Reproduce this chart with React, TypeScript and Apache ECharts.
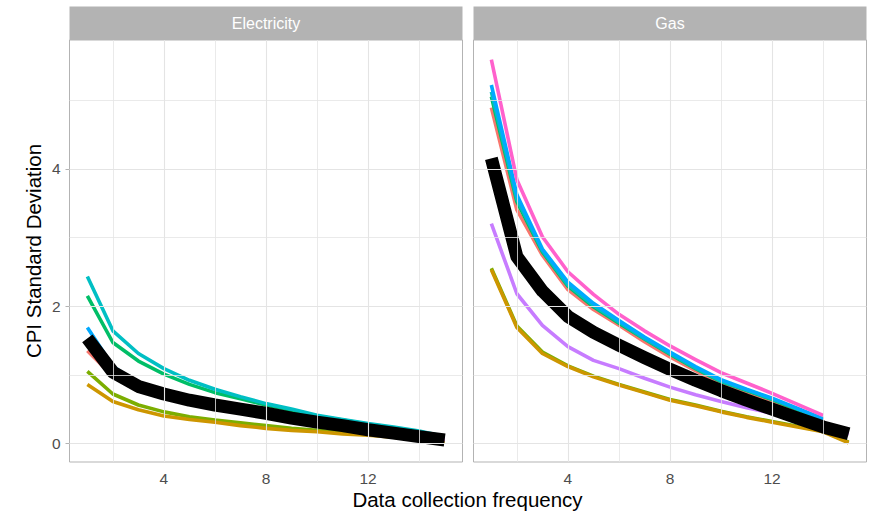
import React, { useEffect, useRef } from "react";
import * as echarts from "echarts";

// ---- data ----
const freq15 = [1, 2, 3, 4, 5, 6, 7, 8, 9, 10, 11, 12, 13, 14, 15];
const freq14 = [1, 2, 3, 4, 5, 6, 7, 8, 9, 10, 11, 12, 13, 14];

const panels = ["Electricity", "Gas"];

const xMajor = [4, 8, 12];
const xMinor = [2, 6, 10, 14];
const yMajor = [0, 2, 4];
const yMinor = [1, 3, 5];

// Electricity
const elecSalmon = [1.35, 0.98, 0.8, 0.69, 0.6, 0.53, 0.47, 0.42, 0.36, 0.3, 0.25, 0.2, 0.15, 0.1, 0.05];
const elecGold = [0.86, 0.61, 0.49, 0.4, 0.35, 0.31, 0.26, 0.22, 0.19, 0.17, 0.14, 0.12, 0.09, 0.06, 0.03];
const elecYellowGreen = [1.05, 0.72, 0.56, 0.46, 0.39, 0.34, 0.3, 0.26, 0.22, 0.19, 0.16, 0.13, 0.1, 0.07, 0.04];
const elecGreen = [2.15, 1.47, 1.2, 1.01, 0.86, 0.74, 0.65, 0.56, 0.48, 0.4, 0.34, 0.28, 0.22, 0.16, 0.09];
const elecTeal = [2.43, 1.64, 1.31, 1.09, 0.92, 0.79, 0.68, 0.58, 0.5, 0.41, 0.35, 0.29, 0.24, 0.18, 0.1];
const elecBlue = [1.69, 1.12, 0.88, 0.75, 0.66, 0.58, 0.52, 0.46, 0.39, 0.33, 0.27, 0.21, 0.16, 0.11, 0.06];
const elecPurple = [1.45, 1.02, 0.82, 0.71, 0.62, 0.55, 0.49, 0.43, 0.37, 0.31, 0.26, 0.2, 0.15, 0.1, 0.05];
const elecPink = [1.5, 1.05, 0.84, 0.73, 0.64, 0.57, 0.51, 0.45, 0.38, 0.32, 0.27, 0.21, 0.16, 0.11, 0.06];
const elecMean = [1.53, 1.04, 0.83, 0.72, 0.63, 0.56, 0.5, 0.44, 0.37, 0.31, 0.26, 0.2, 0.15, 0.1, 0.05];

// Gas
const gasSalmon = [4.89, 3.4, 2.74, 2.24, 1.95, 1.72, 1.48, 1.26, 1.06, 0.87, 0.74, 0.61, 0.48, 0.34];
const gasYellowGreen = [2.55, 1.71, 1.33, 1.13, 0.98, 0.86, 0.75, 0.64, 0.56, 0.47, 0.39, 0.32, 0.25, 0.18, 0.02];
const gasGold = [2.53, 1.69, 1.31, 1.12, 0.97, 0.85, 0.74, 0.63, 0.55, 0.46, 0.38, 0.31, 0.24, 0.17, 0.01];
const gasGreen = [5.05, 3.52, 2.79, 2.29, 1.99, 1.75, 1.52, 1.3, 1.09, 0.9, 0.77, 0.64, 0.49, 0.35];
const gasTeal = [5.12, 3.56, 2.81, 2.31, 2.01, 1.77, 1.53, 1.31, 1.1, 0.91, 0.78, 0.65, 0.5, 0.35];
const gasBlue = [5.22, 3.62, 2.83, 2.35, 2.04, 1.79, 1.55, 1.33, 1.12, 0.93, 0.79, 0.66, 0.51, 0.36];
const gasPurple = [3.2, 2.18, 1.72, 1.41, 1.21, 1.09, 0.95, 0.82, 0.71, 0.61, 0.52, 0.44, 0.35, 0.25, 0.13];
const gasPink = [5.59, 3.84, 3.01, 2.5, 2.17, 1.88, 1.64, 1.42, 1.22, 1.03, 0.88, 0.73, 0.57, 0.41];
const gasMean = [4.15, 2.72, 2.22, 1.85, 1.62, 1.43, 1.25, 1.08, 0.92, 0.77, 0.63, 0.5, 0.37, 0.24, 0.14];

const colSalmon = "#F8766D";
const colGold = "#CD9600";
const colYellowGreen = "#7CAE00";
const colGreen = "#00BE67";
const colTeal = "#00BFC4";
const colBlue = "#00A9FF";
const colPurple = "#C77CFF";
const colPink = "#FF61CC";

const FONT = '"Liberation Sans", Arial, Helvetica, sans-serif';
const LW = 3.6;

function pts(xs: number[], ys: number[]) {
  return ys.map((y, i) => [xs[i], y]);
}

function lineSeries(idx: number, xs: number[], ys: number[], color: string, width: number) {
  return {
    type: "line",
    xAxisIndex: idx,
    yAxisIndex: idx,
    data: pts(xs, ys),
    showSymbol: false,
    symbol: "none",
    silent: true,
    z: 3,
    lineStyle: { color, width, cap: "butt", join: "round" },
  };
}

function gridSeries(idx: number) {
  const ls = (w: number) => ({ color: "#E4E4E4", width: w, type: "solid" });
  return {
    type: "line",
    xAxisIndex: idx,
    yAxisIndex: idx,
    data: [],
    silent: true,
    z: 1,
    markLine: {
      silent: true,
      symbol: ["none", "none"],
      label: { show: false },
      animation: false,
      data: [
        ...xMinor.map((v) => ({ xAxis: v, lineStyle: ls(0.8) })),
        ...yMinor.map((v) => ({ yAxis: v, lineStyle: ls(0.8) })),
        ...xMajor.map((v) => ({ xAxis: v, lineStyle: ls(1.1) })),
        ...yMajor.map((v) => ({ yAxis: v, lineStyle: ls(1.1) })),
      ],
    },
  };
}

const panelLeft = [69.5, 473.5];
const panelWidth = 393;
const panelTop = 40;
const panelHeight = 422;

export default function App() {
  const ref = useRef<HTMLDivElement>(null);
  useEffect(() => {
    const chart = echarts.init(ref.current!, null, { renderer: "svg" });
    const xAxisBase = (idx: number) => ({
      type: "value",
      gridIndex: idx,
      min: 0.3,
      max: 15.7,
      axisLine: { show: false },
      splitLine: { show: false },
      axisTick: { show: true, length: 4, customValues: xMajor, lineStyle: { color: "#B3B3B3", width: 1 } },
      axisLabel: { customValues: xMajor, color: "#4D4D4D", fontSize: 15.5, fontFamily: FONT, margin: 8 },
    });
    const yAxisBase = (idx: number) => ({
      type: "value",
      gridIndex: idx,
      min: -0.27,
      max: 5.875,
      axisLine: { show: false },
      splitLine: { show: false },
      axisTick: { show: idx === 0, length: 4, customValues: yMajor, lineStyle: { color: "#B3B3B3", width: 1 } },
      axisLabel: { show: idx === 0, customValues: yMajor, color: "#4D4D4D", fontSize: 15.5, fontFamily: FONT, margin: 9 },
    });

    const option: any = {
      animation: false,
      grid: panelLeft.map((l) => ({
        left: l,
        top: panelTop,
        width: panelWidth,
        height: panelHeight,
        show: true,
        borderColor: "#B3B3B3",
        borderWidth: 1,
        backgroundColor: "transparent",
        containLabel: false,
      })),
      xAxis: [xAxisBase(0), xAxisBase(1)],
      yAxis: [yAxisBase(0), yAxisBase(1)],
      series: [
        gridSeries(0),
        gridSeries(1),
        lineSeries(0, freq15, elecSalmon, colSalmon, LW),
        lineSeries(0, freq15, elecYellowGreen, colYellowGreen, LW),
        lineSeries(0, freq15, elecGold, colGold, LW),
        lineSeries(0, freq15, elecGreen, colGreen, LW),
        lineSeries(0, freq15, elecTeal, colTeal, LW),
        lineSeries(0, freq15, elecBlue, colBlue, LW),
        lineSeries(0, freq15, elecPurple, colPurple, LW),
        lineSeries(0, freq15, elecPink, colPink, LW),
        lineSeries(0, freq15, elecMean, "#000000", 13),
        lineSeries(1, freq14, gasSalmon, colSalmon, LW),
        lineSeries(1, freq15, gasYellowGreen, colYellowGreen, LW),
        lineSeries(1, freq15, gasGold, colGold, LW),
        lineSeries(1, freq14, gasGreen, colGreen, LW),
        lineSeries(1, freq14, gasTeal, colTeal, LW),
        lineSeries(1, freq14, gasBlue, colBlue, LW),
        lineSeries(1, freq15, gasPurple, colPurple, LW),
        lineSeries(1, freq14, gasPink, colPink, LW),
        lineSeries(1, freq15, gasMean, "#000000", 13),
      ],
      graphic: [
        ...panels.flatMap((name, i) => [
          {
            type: "rect",
            shape: { x: panelLeft[i], y: 6.5, width: panelWidth, height: 33.5 },
            style: { fill: "#B3B3B3" },
            silent: true,
          },
          {
            type: "text",
            x: panelLeft[i] + panelWidth / 2,
            y: 23.5,
            style: {
              text: name,
              fill: "#FFFFFF",
              font: `16px ${FONT}`,
              align: "center",
              verticalAlign: "middle",
            },
            silent: true,
          },
        ]),
        {
          type: "text",
          x: 33.5,
          y: 251,
          rotation: Math.PI / 2,
          style: {
            text: "CPI Standard Deviation",
            fill: "#000000",
            font: `20.5px ${FONT}`,
            align: "center",
            verticalAlign: "middle",
          },
          silent: true,
        },
        {
          type: "text",
          x: 467.5,
          y: 499,
          style: {
            text: "Data collection frequency",
            fill: "#000000",
            font: `20.5px ${FONT}`,
            align: "center",
            verticalAlign: "middle",
          },
          silent: true,
        },
      ],
    };
    chart.setOption(option);
    return () => chart.dispose();
  }, []);
  return (
    <div
      ref={ref}
      style={{ position: "fixed", left: 0, top: 0, width: 871, height: 514, background: "#fff" }}
    />
  );
}
